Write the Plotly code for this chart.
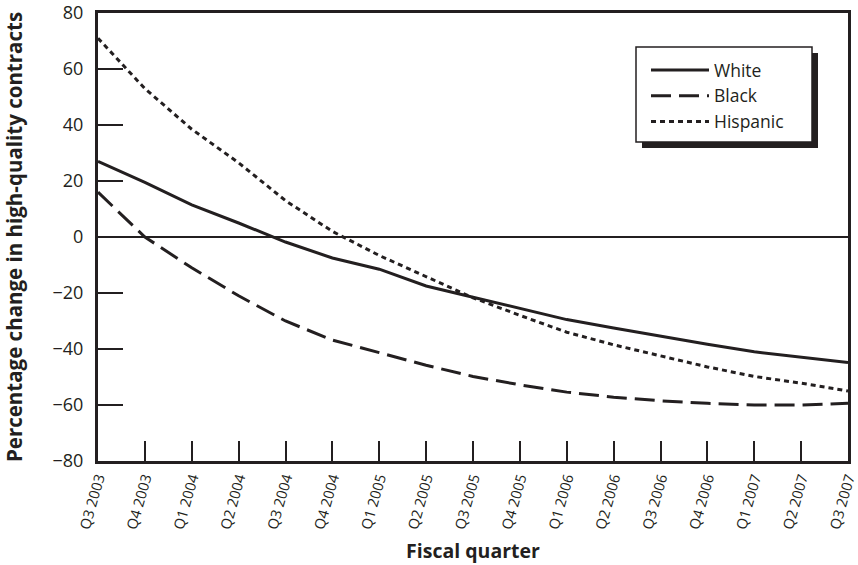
import plotly.graph_objects as go

quarters = ["Q3 2003", "Q4 2003", "Q1 2004", "Q2 2004", "Q3 2004", "Q4 2004",
            "Q1 2005", "Q2 2005", "Q3 2005", "Q4 2005", "Q1 2006", "Q2 2006",
            "Q3 2006", "Q4 2006", "Q1 2007", "Q2 2007", "Q3 2007"]
white = [27, 19.5, 11.5, 5, -1.8, -7.5, -11.5, -17.5, -21.5, -25.5, -29.5,
         -32.5, -35.5, -38.3, -41, -43, -44.8]
black = [16, 0, -11, -21, -30, -36.8, -41.3, -45.8, -49.8, -52.8, -55.4,
         -57.2, -58.5, -59.4, -60, -60, -59.4]
hispanic = [71, 53, 38.5, 26.5, 13, 2, -6.6, -14.2, -21.7, -28, -34,
            -38.5, -42.5, -46.4, -49.8, -52.2, -55]
y_ticks = [-80, -60, -40, -20, 0, 20, 40, 60, 80]
y_labels = ["\u221280", "\u221260", "\u221240", "\u221220", "0", "20", "40", "60", "80"]

xs = list(range(len(quarters)))
FONT = "Open Sans"
ink = "#231f20"

fig = go.Figure()
fig.add_trace(go.Scatter(x=xs, y=white, name="White", mode="lines",
                         line=dict(color=ink, width=3)))
fig.add_trace(go.Scatter(x=xs, y=black, name="Black", mode="lines",
                         line=dict(color=ink, width=3, dash="20px,8px")))
fig.add_trace(go.Scatter(x=xs, y=hispanic, name="Hispanic", mode="lines",
                         line=dict(color=ink, width=3, dash="5px,4px")))

W, H = 858, 565
L, T = 98, 13
R = W - 848
B = H - 461
pw, ph = W - L - R, H - T - B

def sx(px):  # screen px -> paper x
    return (px - L) / pw

def sy(py):  # screen px -> paper y
    return (H - B - py) / ph

# legend shadow and frame
fig.add_shape(type="rect", xref="paper", yref="paper",
              x0=sx(642), x1=sx(818), y0=sy(148), y1=sy(53),
              fillcolor=ink, line=dict(width=0), layer="above")
fig.add_shape(type="rect", xref="paper", yref="paper",
              x0=sx(636), x1=sx(812), y0=sy(142), y1=sy(47),
              fillcolor="white", line=dict(width=1.5, color=ink), layer="above")

fig.update_layout(
    width=W, height=H,
    margin=dict(l=L, r=R, t=T, b=B, autoexpand=False),
    paper_bgcolor="white", plot_bgcolor="white",
    font=dict(family=FONT, color=ink),
    showlegend=True,
    legend=dict(x=sx(646), xanchor="left", y=sy(52), yanchor="top",
                bgcolor="rgba(0,0,0,0)", borderwidth=0,
                font=dict(size=17.5, family=FONT, color=ink),
                itemwidth=58, tracegroupgap=0),
    xaxis=dict(range=[0, len(quarters) - 1], tickmode="array", tickvals=xs,
               ticktext=quarters, tickangle=-74, ticks="inside", ticklen=20,
               tickwidth=2, tickcolor=ink, showgrid=False, zeroline=False,
               showline=True, linewidth=3, linecolor=ink, mirror=True,
               automargin=False, ticklabelstandoff=0, ticklabeloverflow="allow",
               tickfont=dict(size=14.5, family=FONT, color=ink),
               title=dict(text="<b>Fiscal quarter</b>", font=dict(size=19.5, family=FONT, color=ink),
                          standoff=14)),
    yaxis=dict(range=[-80, 80], tickmode="array", tickvals=y_ticks, ticktext=y_labels,
               ticks="inside", ticklen=25, tickwidth=2, tickcolor=ink,
               showgrid=False, zeroline=True, zerolinecolor=ink, zerolinewidth=1.5,
               showline=True, linewidth=3, linecolor=ink, mirror=True,
               automargin=False, ticklabelstandoff=8, ticklabeloverflow="allow",
               tickfont=dict(size=18, family=FONT, color=ink),
               title=dict(text="<b>Percentage change in high-quality contracts</b>",
                          font=dict(size=20.5, family=FONT, color=ink), standoff=41)),
)

fig.write_html("out.html", config={"displayModeBar": False},
               post_script="document.body.style.margin='0';")
